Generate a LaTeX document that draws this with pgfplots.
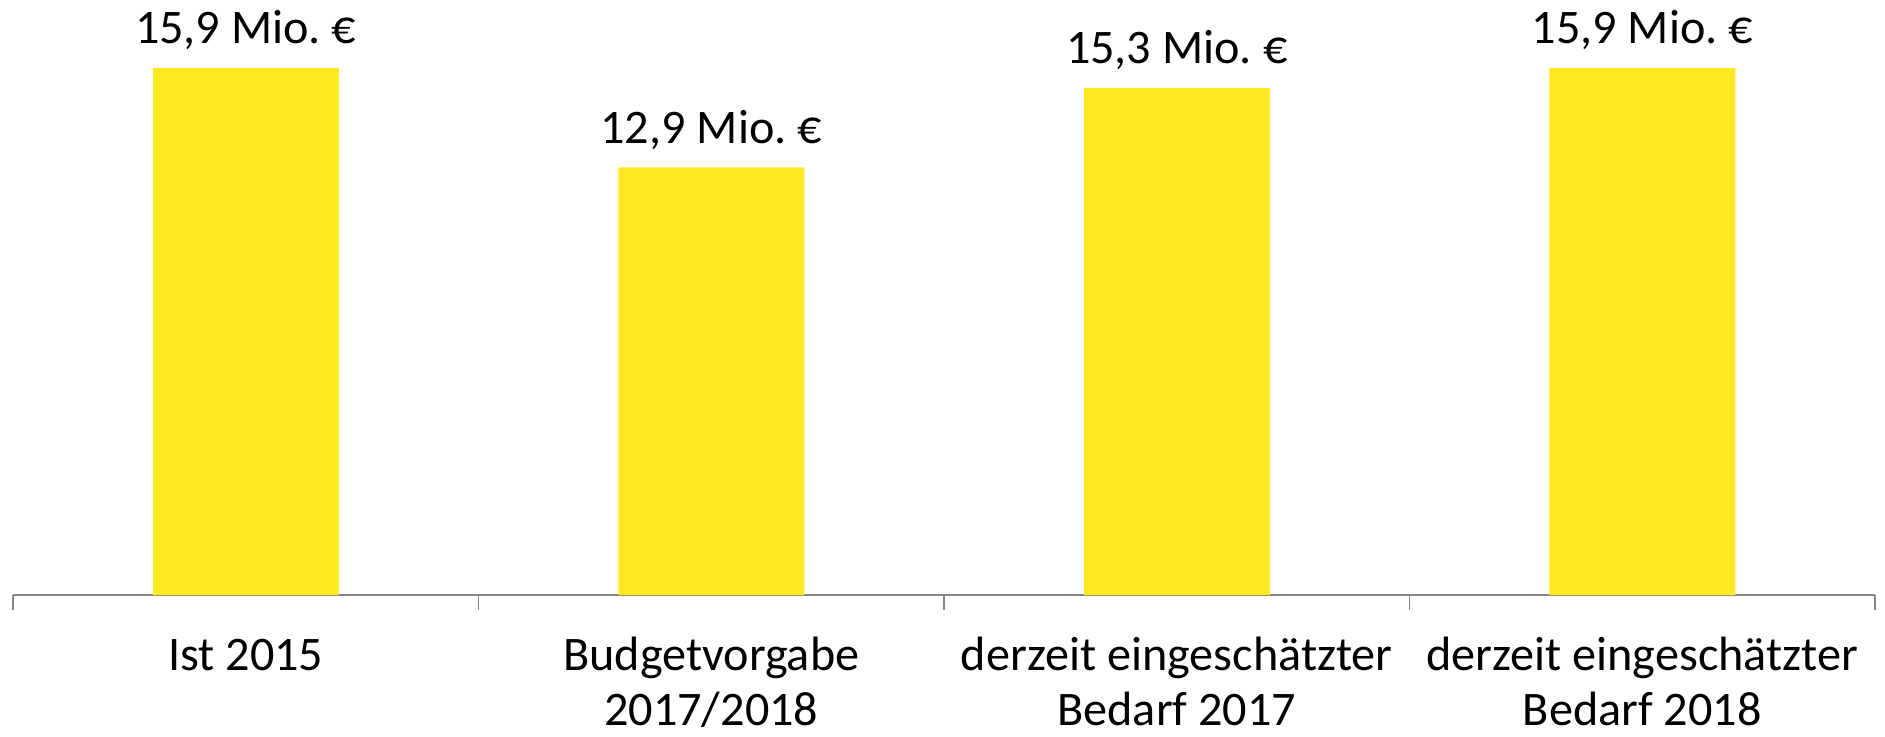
\documentclass[border=0pt]{standalone}
\usepackage{fontspec}
\setmainfont{Carlito}
\usepackage{pgfplots}
\pgfplotsset{compat=1.18}
\definecolor{baryellow}{RGB}{255,233,32}
\definecolor{axgray}{RGB}{134,134,134}
\begin{document}
\begin{tikzpicture}
\path[use as bounding box] (-6.5pt,-70.5pt) rectangle (936pt,297.5pt);
\begin{axis}[
  at={(0pt,0pt)}, anchor=south west,
  scale only axis,
  width=931pt, height=297.5pt,
  xmin=-0.5, xmax=3.5,
  ymin=0, ymax=17.95,
  clip=false,
  axis y line=none,
  axis x line*=bottom,
  x axis line style={draw=axgray, line width=0.75pt, -},
  xtick={0,1,2,3},
  xticklabels={{\strut Ist 2015},{\strut Budgetvorgabe\\2017/2018},{\strut derzeit eingeschätzter\\Bedarf 2017},{\strut derzeit eingeschätzter\\Bedarf 2018}},
  major tick length=0pt,
  minor xtick={-0.5,0.5,1.5,2.5,3.5},
  minor tick length=7.5pt,
  tick align=outside,
  minor tick style={draw=axgray, line width=0.75pt},
  xticklabel style={font=\fontsize{24.1}{27.5}\selectfont, align=center, anchor=north, inner sep=0pt, yshift=-18.4pt},
  ytick=\empty,
  point meta=explicit symbolic,
  nodes near coords,
  every node near coord/.append style={font=\fontsize{24.1}{27.5}\selectfont, anchor=base, yshift=12pt, inner sep=0pt, text=black},
]
\addplot[ybar, bar width=93pt, fill=baryellow, draw=none] coordinates {
  (0,15.9) [15,9 Mio.~€]
  (1,12.9) [12,9 Mio.~€]
  (2,15.3) [15,3 Mio.~€]
  (3,15.9) [15,9 Mio.~€]
};
\end{axis}
\end{tikzpicture}
\end{document}
